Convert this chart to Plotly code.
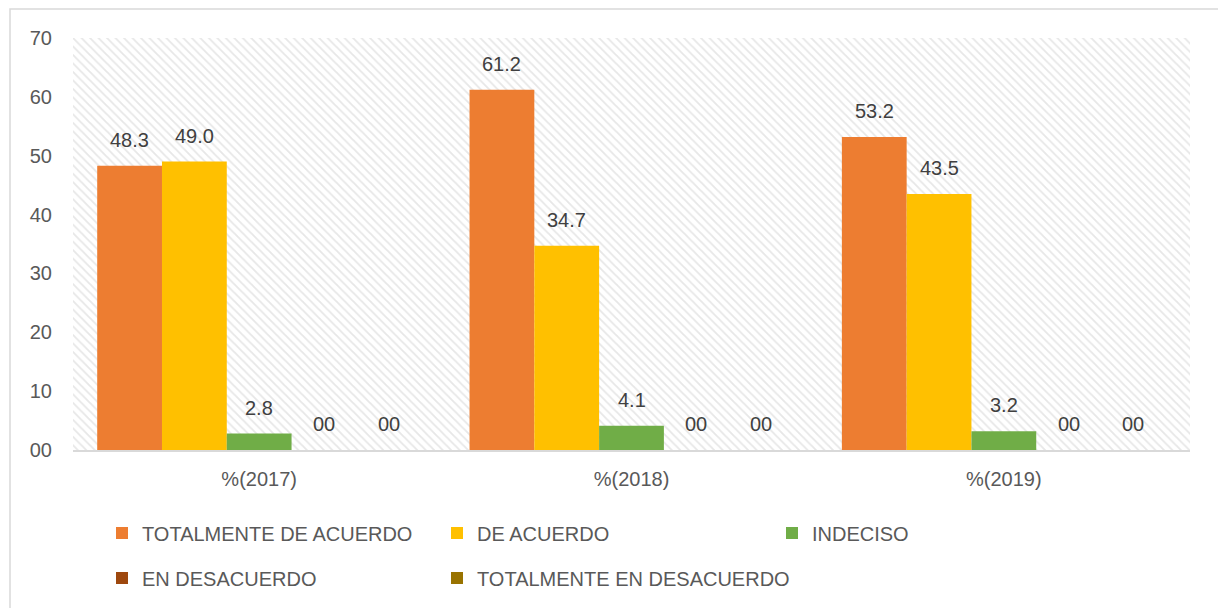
import plotly.graph_objects as go

# chart data
categories = ["%(2017)", "%(2018)", "%(2019)"]
series_names = ["TOTALMENTE DE ACUERDO", "DE ACUERDO", "INDECISO",
                "EN DESACUERDO", "TOTALMENTE EN DESACUERDO"]
totalmente_de_acuerdo = [48.3, 61.2, 53.2]
de_acuerdo = [49.0, 34.7, 43.5]
indeciso = [2.8, 4.1, 3.2]
en_desacuerdo = [0, 0, 0]
totalmente_en_desacuerdo = [0, 0, 0]
y_ticks = [0, 10, 20, 30, 40, 50, 60, 70]

colors = ["#ED7D31", "#FFC000", "#70AD47", "#9E480E", "#997300"]
all_values = [totalmente_de_acuerdo, de_acuerdo, indeciso, en_desacuerdo, totalmente_en_desacuerdo]
legend_of = ["legend", "legend", "legend", "legend2", "legend3"]

# page body has an 8px margin, so figure coords are screen coords minus 8
W, H = 1218, 600
L, R, T, B = 65, 36, 30, 158
PW, PH = W - L - R, H - T - B
BARGAP = 0.13
grey = "#595959"
font = "Liberation Sans"

fig = go.Figure()

# hatched plot-area background (drawn on the base axis, under the bars)
fig.add_trace(go.Bar(
    x=[0.5], y=[70], width=[1], xaxis="x", yaxis="y",
    marker=dict(color="white", line=dict(width=0),
                pattern=dict(shape="\\", fgcolor="#cfcfcf", bgcolor="white",
                             size=6, solidity=0.3)),
    showlegend=False, hoverinfo="skip",
))

bar_px = PW / len(categories) * (1 - BARGAP) / len(series_names)
for i, (name, vals, col, lg) in enumerate(zip(series_names, all_values, colors, legend_of)):
    fig.add_trace(go.Bar(
        name=name, x=categories, y=vals, xaxis="x2", yaxis="y", legend=lg,
        marker=dict(color=col, line=dict(width=0)),
    ))
    # data labels, floated a bit above each bar like the original
    for cat, v in zip(categories, vals):
        fig.add_annotation(
            x=cat, y=v, xref="x2", yref="y", text=f"{v:.1f}" if v else "00",
            showarrow=False, xshift=(i - 2) * bar_px, yshift=26, yanchor="middle",
            font=dict(size=20, color="#404040", family=font),
        )

# outer chart border
fig.add_shape(type="rect", xref="paper", yref="paper",
              x0=(2 - L) / PW, x1=(1212 - L) / PW,
              y0=-(H + 10 - (H - B)) / PH, y1=(H - B - 1) / PH,
              line=dict(color="#d9d9d9", width=1.5), fillcolor="rgba(0,0,0,0)", layer="below")

leg_common = dict(orientation="h", xanchor="left", yanchor="middle",
                  font=dict(size=20, color=grey, family=font), itemwidth=30,
                  bgcolor="rgba(0,0,0,0)")

fig.update_layout(
    width=W, height=H,
    margin=dict(l=L, r=R, t=T, b=B, autoexpand=False),
    paper_bgcolor="white", plot_bgcolor="white",
    barmode="group", bargap=BARGAP, bargroupgap=0,
    font=dict(family=font, color=grey, size=20),
    xaxis=dict(range=[0, 1], visible=False, fixedrange=True, automargin=False),
    xaxis2=dict(overlaying="x", type="category", showline=True, linecolor="#d9d9d9",
                linewidth=1.5, ticks="", showgrid=False, tickfont=dict(size=20, color=grey),
                ticklabelstandoff=10, side="bottom", automargin=False),
    yaxis=dict(range=[0, 70], tickvals=y_ticks, tickformat="02d", showgrid=False,
               zeroline=False, showline=False, tickfont=dict(size=20, color=grey),
               ticklabelstandoff=20, automargin=False),
    legend=dict(x=(94 - L) / PW, y=-(525 - (H - B)) / PH,
                entrywidth=290, entrywidthmode="pixels", **leg_common),
    legend2=dict(x=(94 - L) / PW, y=-(570 - (H - B)) / PH, **leg_common),
    legend3=dict(x=(429 - L) / PW, y=-(570 - (H - B)) / PH, **leg_common),
)

fig.write_html("out.html")
